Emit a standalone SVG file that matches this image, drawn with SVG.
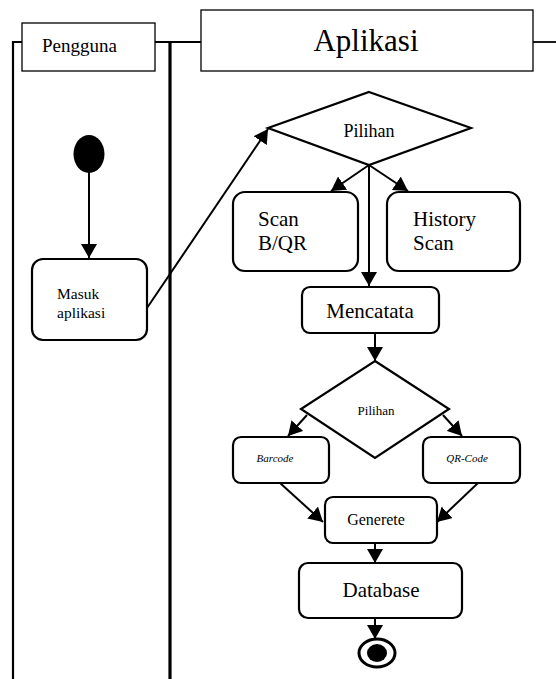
<svg xmlns="http://www.w3.org/2000/svg" width="556" height="679" viewBox="0 0 556 679" font-family="'Liberation Serif', 'Times New Roman', 'DejaVu Serif', serif">
<style>
  .t { font-family: 'Liberation Serif', 'Times New Roman', 'DejaVu Serif', serif; fill: #000; }
  .box { fill: #fff; stroke: #000; stroke-width: 2.2; }
  .hdr { fill: #fff; stroke: #000; stroke-width: 1.3; }
  .lane { fill: none; stroke: #000; }
  .edge { fill: none; stroke: #000; stroke-width: 2; marker-end: url(#arr); }
</style>
<defs>
  <marker id="arr" viewBox="0 0 14 16" refX="14" refY="8" markerWidth="14" markerHeight="16" markerUnits="userSpaceOnUse" orient="auto">
    <path d="M0,0 L14,8 L0,16 z" fill="#000"/>
  </marker>
</defs>

<g id="lanes">
  <path class="lane" stroke-width="2.2" d="M22,42 H13 V679"/>
  <path class="lane" stroke-width="1.8" d="M155,42 H201"/>
  <path class="lane" stroke-width="3.2" d="M170,42 V679"/>
  <path class="lane" stroke-width="1.8" d="M533,42 H556"/>
</g>

<g id="lane-pengguna">
  <rect class="hdr" x="22" y="23" width="133" height="48"/>
  <text class="t" x="42" y="52" font-size="19">Pengguna</text>
</g>
<g id="lane-aplikasi">
  <rect class="hdr" x="201" y="10" width="332" height="61"/>
  <text class="t" x="366" y="51" font-size="31" text-anchor="middle">Aplikasi</text>
</g>

<g id="connectors">
  <path class="edge" d="M89,172 V258"/>
  <path class="edge" d="M147,308 L268,129"/>
  <path class="edge" d="M369,165 L331,191"/>
  <path class="edge" d="M369,165 L408,191"/>
  <path class="edge" d="M369,165 V286"/>
  <path class="edge" d="M375,333 V361"/>
  <path class="edge" d="M307,415 L288,436"/>
  <path class="edge" d="M443,415 L462,436"/>
  <path class="edge" d="M280,483 L323,522"/>
  <path class="edge" d="M478,483 L437,522"/>
  <path class="edge" d="M375,543 V563"/>
  <path class="edge" d="M375,618 V639"/>
</g>

<g id="start">
  <ellipse cx="89" cy="154" rx="15.5" ry="19" fill="#000"/>
</g>

<g id="masuk-aplikasi">
  <rect class="box" x="32" y="259" width="115" height="81" rx="11"/>
  <text class="t" x="57" y="299" font-size="15.5">Masuk</text>
  <text class="t" x="57" y="318" font-size="15.5">aplikasi</text>
</g>

<g id="pilihan1">
  <polygon class="box" points="369,92 471,128 369,165 268,128"/>
  <text class="t" x="369" y="137" font-size="18" text-anchor="middle">Pilihan</text>
</g>

<g id="scan-bqr">
  <rect class="box" x="233" y="192" width="125" height="79" rx="12"/>
  <text class="t" x="258" y="226" font-size="21">Scan</text>
  <text class="t" x="258" y="250" font-size="21">B/QR</text>
</g>

<g id="history-scan">
  <rect class="box" x="387" y="192" width="133" height="79" rx="12"/>
  <text class="t" x="413" y="226" font-size="21">History</text>
  <text class="t" x="413" y="250" font-size="21">Scan</text>
</g>

<g id="mencatata">
  <rect class="box" x="302" y="287" width="137" height="46" rx="8"/>
  <text class="t" x="370" y="318" font-size="21" text-anchor="middle">Mencatata</text>
</g>

<g id="pilihan2">
  <polygon class="box" points="375,361 449,409 375,458 301,409"/>
  <text class="t" x="376" y="415" font-size="13" text-anchor="middle">Pilihan</text>
</g>

<g id="barcode">
  <rect class="box" x="233" y="437" width="96" height="46" rx="8"/>
  <text class="t" x="275" y="462" font-size="11" font-style="italic" text-anchor="middle">Barcode</text>
</g>

<g id="qr-code">
  <rect class="box" x="423" y="437" width="97" height="46" rx="8"/>
  <text class="t" x="467" y="462" font-size="11" font-style="italic" text-anchor="middle">QR-Code</text>
</g>

<g id="generete">
  <rect class="box" x="325" y="497" width="112" height="46" rx="8"/>
  <text class="t" x="376" y="525" font-size="16" text-anchor="middle">Generete</text>
</g>

<g id="database">
  <rect class="box" x="299" y="563" width="163" height="55" rx="9"/>
  <text class="t" x="381" y="597" font-size="21" text-anchor="middle">Database</text>
</g>

<g id="end">
  <ellipse cx="377" cy="653" rx="18" ry="14" fill="#fff" stroke="#000" stroke-width="3"/>
  <ellipse cx="377" cy="653" rx="10" ry="9" fill="#000"/>
</g>
</svg>
